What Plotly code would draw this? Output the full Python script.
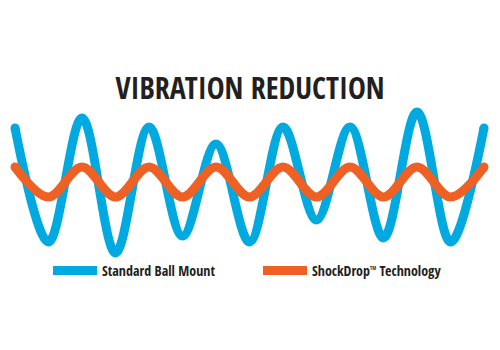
import plotly.graph_objects as go

# half-period steps
t = list(range(15))
# amplitude (orange amplitude = 1 unit)
standard_ball_mount = [3.6, -4.0, 4.27, -4.73, 3.67, -3.6, 2.53, -4.0, 3.67, -2.53, 3.67, -3.73, 4.67, -4.0, 3.6]
shockdrop = [1, -1, 1, -1, 1, -1, 1, -1, 1, -1, 1, -1, 1, -1, 1]

series_names = ["Standard Ball Mount", "ShockDrop<sup><span style='font-size:5px'>TM</span></sup> Technology"]
BLUE = "#00a9e0"
ORANGE = "#ef6024"
DARK = "#231f20"
FONT = "Open Sans Condensed, Roboto Condensed, sans-serif"

fig = go.Figure()
for name, vals, col in [(series_names[0], standard_ball_mount, BLUE),
                        (series_names[1], shockdrop, ORANGE)]:
    fig.add_trace(go.Scatter(x=t, y=vals, mode="lines", name=name,
                             line=dict(color=col, width=9, shape="spline", smoothing=1)))
    fig.add_trace(go.Scatter(x=[t[0], t[-1]], y=[vals[0], vals[-1]], mode="markers",
                             marker=dict(color=col, size=9), showlegend=False, hoverinfo="skip"))

fig.update_layout(
    width=500, height=350,
    margin=dict(l=0, r=0, t=0, b=0),
    paper_bgcolor="white", plot_bgcolor="white",
    xaxis=dict(range=[-0.448, 14.478], visible=False, fixedrange=True),
    yaxis=dict(range=[-11.2, 12.13], visible=False, fixedrange=True),
    title=dict(text="VIBRATION REDUCTION", x=0.5, xanchor="center", y=0.746, yanchor="middle",
               font=dict(family=FONT, size=30, color=DARK, weight="bold")),
    legend=dict(orientation="h", x=0.096, xanchor="left", y=0.226, yanchor="middle",
                font=dict(family=FONT, size=14, color=DARK, weight="bold"),
                itemwidth=44, entrywidth=151, bgcolor="rgba(0,0,0,0)"),
    showlegend=True,
)

fig.write_html("out.html")
